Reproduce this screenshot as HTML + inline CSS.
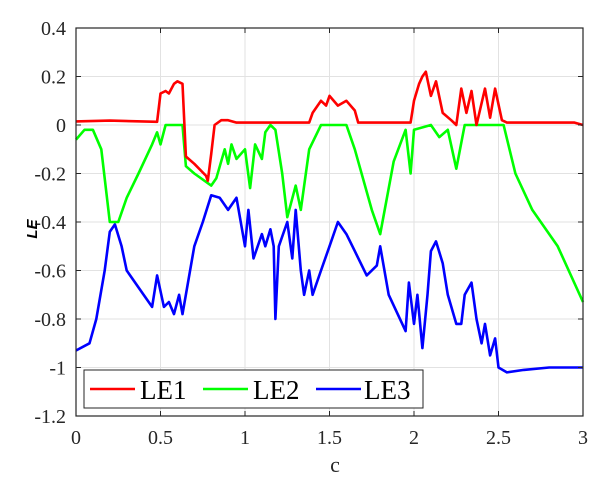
<!DOCTYPE html>
<html><head><meta charset="utf-8"><style>
html,body{margin:0;padding:0;background:#fff;}
svg{display:block;font-family:"Liberation Serif",serif;}
</style></head><body>
<svg id="s" width="604" height="482" viewBox="0 0 604 482" xmlns="http://www.w3.org/2000/svg">
<rect x="0" y="0" width="604" height="482" fill="#fff"/>
<g id="grid" stroke="#e2e2e2" stroke-width="1"></g>
<g id="lines" fill="none" stroke-width="2.6" stroke-linejoin="round"></g>
<rect x="76" y="28" width="507" height="388" fill="none" stroke="#262626" stroke-width="1.2"/>
<g id="ticks" stroke="#262626" stroke-width="1"></g>
<g id="lab" font-size="20" fill="#262626"></g>
<text x="335" y="472" font-size="22" text-anchor="middle" fill="#262626">c</text>
<text x="0" y="0" font-size="15" font-weight="bold" font-style="italic" font-family="Liberation Sans,sans-serif" fill="#000" transform="translate(37,229) rotate(-90)" text-anchor="middle">LE</text>
<rect x="84" y="370" width="339" height="38" fill="#fff" stroke="#262626" stroke-width="1"/>
<line x1="90" y1="389" x2="135" y2="389" stroke="#f00" stroke-width="2.6"/>
<text x="140" y="399" font-size="27" fill="#000">LE1</text>
<line x1="203" y1="389" x2="248" y2="389" stroke="#0f0" stroke-width="2.6"/>
<text x="253" y="399" font-size="27" fill="#000">LE2</text>
<line x1="316" y1="389" x2="361" y2="389" stroke="#00f" stroke-width="2.6"/>
<text x="364" y="399" font-size="27" fill="#000">LE3</text>
</svg>
<script>
var NS="http://www.w3.org/2000/svg";
function px(c){return 76+169*c;}function py(v){return 125-242.5*v;}
function el(p,t,a){var e=document.createElementNS(NS,t);for(var k in a)e.setAttribute(k,a[k]);document.getElementById(p).appendChild(e);return e;}
for(var i=0;i<=6;i++){var x=px(i*0.5);el("grid","line",{x1:x,y1:28,x2:x,y2:416});el("ticks","line",{x1:x,y1:416,x2:x,y2:411});el("ticks","line",{x1:x,y1:28,x2:x,y2:33});
var t=el("lab","text",{x:x,y:444,"text-anchor":"middle"});t.textContent=["0","0.5","1","1.5","2","2.5","3"][i];}
for(var j=0;j<=8;j++){var v=0.4-0.2*j;var y=py(v);el("grid","line",{x1:76,y1:y,x2:583,y2:y});el("ticks","line",{x1:76,y1:y,x2:81,y2:y});el("ticks","line",{x1:583,y1:y,x2:578,y2:y});
var t=el("lab","text",{x:66,y:y+7,"text-anchor":"end"});t.textContent=["0.4","0.2","0","-0.2","-0.4","-0.6","-0.8","-1","-1.2"][j];}
var R=[0,0.015,0.2,0.018,0.48,0.013,0.5,0.13,0.53,0.14,0.55,0.13,0.58,0.17,0.6,0.18,0.63,0.17,0.65,-0.13,0.7,-0.16,0.77,-0.21,0.78,-0.23,0.8,-0.12,0.82,0.0,0.86,0.02,0.9,0.02,0.95,0.01,1.38,0.01,1.4,0.05,1.45,0.1,1.48,0.08,1.5,0.12,1.55,0.08,1.6,0.1,1.65,0.06,1.67,0.01,1.98,0.01,2.0,0.1,2.03,0.17,2.05,0.2,2.07,0.22,2.1,0.12,2.13,0.18,2.17,0.05,2.22,0.02,2.25,0.0,2.28,0.15,2.31,0.05,2.34,0.14,2.37,0.0,2.42,0.15,2.45,0.03,2.48,0.15,2.52,0.02,2.55,0.01,2.95,0.01,3,0.0];
var G=[0,-0.06,0.05,-0.02,0.1,-0.02,0.15,-0.1,0.2,-0.4,0.25,-0.4,0.3,-0.3,0.37,-0.2,0.45,-0.08,0.48,-0.03,0.5,-0.08,0.53,0,0.63,0,0.65,-0.17,0.7,-0.2,0.8,-0.25,0.83,-0.22,0.88,-0.1,0.9,-0.16,0.92,-0.08,0.95,-0.14,1.0,-0.1,1.03,-0.26,1.06,-0.08,1.1,-0.14,1.12,-0.03,1.15,0,1.18,-0.02,1.22,-0.2,1.25,-0.38,1.3,-0.25,1.33,-0.35,1.38,-0.1,1.45,0,1.6,0,1.65,-0.1,1.75,-0.35,1.8,-0.45,1.88,-0.15,1.95,-0.02,1.98,-0.2,2.0,-0.02,2.1,0,2.15,-0.05,2.2,-0.02,2.25,-0.18,2.3,0,2.53,0,2.6,-0.2,2.7,-0.35,2.85,-0.5,3,-0.73];
var B=[0,-0.93,0.08,-0.9,0.12,-0.8,0.17,-0.6,0.2,-0.44,0.23,-0.41,0.27,-0.5,0.3,-0.6,0.4,-0.7,0.45,-0.75,0.48,-0.62,0.52,-0.75,0.55,-0.73,0.58,-0.78,0.61,-0.7,0.63,-0.78,0.7,-0.5,0.75,-0.4,0.8,-0.29,0.85,-0.3,0.9,-0.35,0.95,-0.3,1.0,-0.5,1.02,-0.35,1.05,-0.55,1.1,-0.45,1.12,-0.5,1.15,-0.43,1.17,-0.5,1.18,-0.8,1.2,-0.5,1.25,-0.4,1.28,-0.55,1.3,-0.35,1.33,-0.6,1.35,-0.7,1.38,-0.6,1.4,-0.7,1.45,-0.6,1.5,-0.5,1.55,-0.4,1.6,-0.45,1.65,-0.52,1.72,-0.62,1.78,-0.58,1.8,-0.5,1.85,-0.7,1.95,-0.85,1.97,-0.65,2.0,-0.82,2.02,-0.7,2.05,-0.92,2.08,-0.7,2.1,-0.52,2.13,-0.48,2.17,-0.57,2.2,-0.7,2.25,-0.82,2.28,-0.82,2.3,-0.7,2.34,-0.65,2.37,-0.8,2.4,-0.9,2.42,-0.82,2.45,-0.95,2.48,-0.88,2.5,-1.0,2.55,-1.02,2.65,-1.01,2.8,-1.0,3,-1.0];
function draw(a,c){var s="";for(var i=0;i<a.length;i+=2)s+=px(a[i]).toFixed(1)+","+py(a[i+1]).toFixed(1)+" ";el("lines","polyline",{points:s,stroke:c});}
draw(B,"#00f");draw(G,"#0f0");draw(R,"#f00");
</script>
</body></html>
